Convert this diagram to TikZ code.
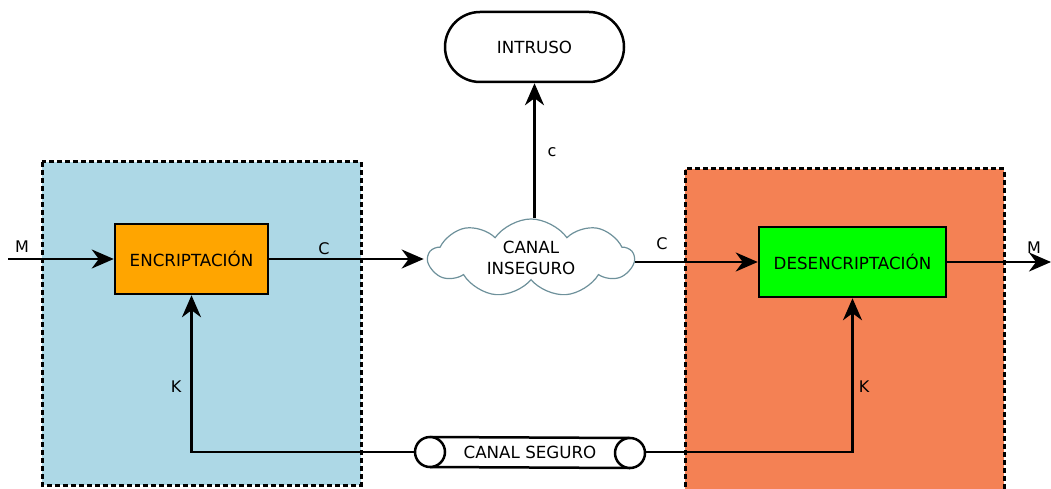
\documentclass[tikz,border=0pt]{standalone}
\usepackage{fontspec}
\setmainfont{DejaVu Sans}
\usetikzlibrary{arrows.meta,shapes.symbols,shapes.geometric}
\definecolor{bluebg}{RGB}{173,216,230}
\definecolor{orangebg}{RGB}{244,129,84}
\definecolor{encfill}{RGB}{255,165,0}
\definecolor{desfill}{RGB}{0,255,0}
\definecolor{cloudline}{RGB}{110,145,155}
\tikzset{
  region/.style={draw=black,line width=3pt,dash pattern=on 5pt off 3pt},
  block/.style={draw=black,line width=2.5pt,minimum height=70pt,inner sep=0pt,font=\fontsize{16.7}{19}\selectfont},
  arr/.style={line width=2.5pt,-{Stealth[length=22pt,width=19pt,inset=7pt]}},
  lbl/.style={font=\fontsize{16}{19}\selectfont,inner sep=0pt}
}
\begin{document}
\begin{tikzpicture}[x=1pt,y=-1pt]
\useasboundingbox (0,0) rectangle (1051,489);
% regions
\fill[bluebg] (42,162) rectangle (361,485);
\draw[region] (42,162) rectangle (361,485);
\fill[orangebg] (685,169) rectangle (1004,495);
\draw[region] (685,495) -- (685,169) -- (1004,169) -- (1004,495);
% nodes
\node[block,fill=encfill,minimum width=153pt] (enc) at (191.5,259) {ENCRIPTACIÓN};
\node[block,fill=desfill,minimum width=187pt] (des) at (852.5,262) {DESENCRIPTACIÓN};
\node[draw=black,line width=2.5pt,rounded corners=35pt,minimum width=179pt,minimum height=70pt,inner sep=0pt,font=\fontsize{16.7}{19}\selectfont] (intruso) at (534.5,47) {INTRUSO};
\node[cloud,draw=cloudline,line width=1.2pt,fill=white,cloud puffs=9,cloud puff arc=110,aspect=2.7,minimum width=205pt,minimum height=78pt,inner sep=0pt,align=center,font=\fontsize{16.7}{21}\selectfont] (cloud) at (531,258) {CANAL\\INSEGURO};
% secure channel (pipe)
\node[minimum width=230pt,minimum height=30pt,inner sep=0pt,font=\fontsize{16.7}{19}\selectfont] (seguro) at (530,452) {CANAL SEGURO};
\draw[line width=2.5pt] (430,437) -- (630,438);
\draw[line width=2.5pt] (430,467) -- (630,468);
\draw[line width=2.5pt,fill=white] (430,452) ellipse [x radius=15pt,y radius=15pt];
\draw[line width=2.5pt,fill=white] (630,453) ellipse [x radius=15pt,y radius=15pt];
% connectors
\coordinate (min) at (8,259);
\coordinate (mout) at (1051,262);
\draw[arr] (min) -- (enc.west);
\draw[arr] (enc.east) -- ([xshift=-3pt]cloud.west |- enc.east);
\draw[arr] (cloud.east |- des.west) -- (des.west);
\draw[arr] (des.east) -- (mout);
\draw[arr] ([xshift=3.5pt]cloud.north) -- (intruso.south);
\draw[arr] (seguro.west) -| (enc.south);
\draw[arr] (seguro.east) -| (des.south);
% labels
\node[lbl] (lm1) at (22,247) {M};
\node[lbl] (lc1) at (324,249) {C};
\node[lbl] (lc2) at (662,244) {C};
\node[lbl] (lm2) at (1034,248) {M};
\node[lbl] (lc3) at (552,152) {c};
\node[lbl] (lk1) at (176,387) {K};
\node[lbl] (lk2) at (864,387) {K};
\end{tikzpicture}
\end{document}
